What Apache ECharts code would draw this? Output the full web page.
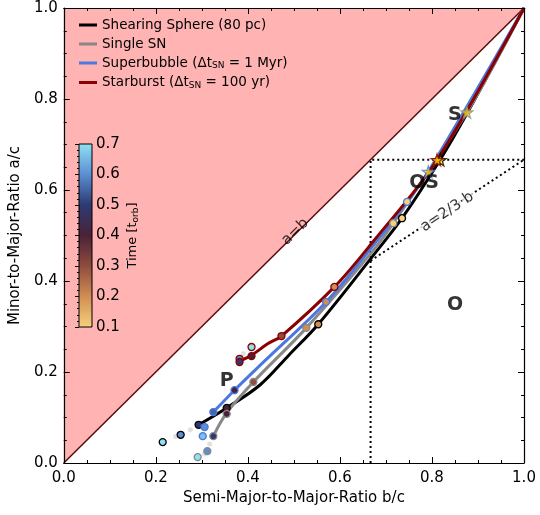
<!DOCTYPE html>
<html><head><meta charset="utf-8">
<script src="https://cdn.jsdelivr.net/npm/echarts@6/dist/echarts.min.js"></script>
<style>html,body{margin:0;padding:0;background:#fff}#c{width:540px;height:515px}</style>
</head><body><div id="c"></div>
<script>
// ---- data ----
const axisTicks = [0, 0.2, 0.4, 0.6, 0.8, 1.0];
const cbarTicks = [0.1, 0.2, 0.3, 0.4, 0.5, 0.6, 0.7];
const timeColors = ['#f6d27a', '#d08e55', '#8f4c3e', '#4a2238', '#2d3a72', '#5b8fd2', '#8fe2f4'];

const seriesNames = ['Shearing Sphere (80 pc)', 'Single SN', 'Superbubble', 'Starburst'];

const shearCurve = [[0.293,0.084],[0.354,0.121],[0.427,0.172],[0.490,0.238],[0.553,0.305],[0.670,0.453],[0.735,0.538],[0.815,0.662],[0.876,0.768],[1,1]];
const singleCurve = [[0.325,0.059],[0.354,0.110],[0.412,0.178],[0.527,0.297],[0.670,0.464],[0.716,0.527],[0.876,0.771],[1,1]];
const bubbleCurve = [[0.325,0.112],[0.371,0.160],[0.427,0.215],[0.570,0.354],[0.670,0.475],[0.746,0.574],[0.792,0.640],[1,1]];
const burstCurve = [[0.377,0.222],[0.408,0.237],[0.443,0.262],[0.473,0.279],[0.588,0.387],[0.670,0.484],[0.811,0.666],[1,1]];

// [b/c, a/c, time]
const shearPts = [[0.215,0.046,0.7],[0.254,0.062,0.6],[0.293,0.084,0.5],[0.354,0.121,0.4],[0.553,0.305,0.2],[0.735,0.538,0.1]];
const singlePts = [[0.291,0.013,0.7],[0.312,0.026,0.6],[0.325,0.059,0.5],[0.354,0.108,0.4],[0.412,0.178,0.3],[0.527,0.297,0.2],[0.716,0.527,0.1]];
const bubblePts = [[0.302,0.059,0.66],[0.306,0.079,0.6],[0.325,0.112,0.55],[0.371,0.160,0.4],[0.570,0.354,0.2],[0.746,0.574,0.1]];
const burstPts = [[0.408,0.255,0.7],[0.382,0.229,0.6],[0.382,0.222,0.5],[0.408,0.235,0.4],[0.473,0.279,0.3],[0.588,0.387,0.2]];

const shearStar = [0.818,0.666];
const singleStar = [0.876,0.771];
const bubbleStar = [0.792,0.640];
const burstStar = [0.811,0.666];

const fadedPts = [[0.275,0.073],[0.243,0.058],[0.317,0.042],[0.390,0.240],[0.306,0.020]];

const equalLine = [[0,0],[1,1]];
const boxLine = [[2/3,0],[2/3,2/3],[1,2/3]];
const oblateLine = [[2/3,4/9],[1,2/3]];

const regionTexts = ['S','OS','P','O'];
const regionPos = [[0.85,0.765],[0.783,0.615],[0.354,0.180],[0.85,0.347]];
const lineTexts = ['a=b','a=2/3·b'];
const linePos = [[0.503,0.508],[0.833,0.552]];

// ---- chart ----
const chart = echarts.init(document.getElementById('c'));
const FONT = 'DejaVu Sans';
const lineColors = ['#000000', '#888888', '#4a78e0', '#8b0000'];
const STAR = 'path://M50,0 L61,35 L98,35 L68,57 L79,91 L50,70 L21,91 L32,57 L2,35 L39,35 Z';

const gradStops = timeColors.map((c, i) => ({offset: 1 - i / (timeColors.length - 1), color: c}));

function mainAxis(extra) {
  return Object.assign({
    type: 'value', min: 0, max: 1, interval: 0.2, gridIndex: 0, z: 10,
    axisLine: {show: true, onZero: false, lineStyle: {color: '#000', width: 1.2}},
    axisTick: {show: true, inside: true, length: 6, lineStyle: {color: '#000', width: 1}},
    minorTick: {show: true, splitNumber: 4, length: 3, lineStyle: {color: '#000', width: 1}},
    splitLine: {show: false},
    axisLabel: {show: true, fontFamily: FONT, fontSize: 15, color: '#000', formatter: v => v.toFixed(1)}
  }, extra);
}

const curves = [shearCurve, singleCurve, bubbleCurve, burstCurve];
const pts = [shearPts, singlePts, bubblePts, burstPts];
const stars = [shearStar, singleStar, bubbleStar, burstStar];

const series = [];
series.push({
  type: 'line', data: equalLine, symbol: 'none', silent: true, z: 1,
  lineStyle: {color: '#5a0a0a', width: 1.5},
  areaStyle: {color: '#ffb3b3', opacity: 1, origin: 'end'}
});
series.push({type: 'line', data: boxLine, symbol: 'none', silent: true, z: 2,
  lineStyle: {color: '#000', width: 2, type: [2, 3]}});
series.push({type: 'line', data: oblateLine, symbol: 'none', silent: true, z: 2,
  lineStyle: {color: '#000', width: 2, type: [2, 3]}});
series.push({type: 'scatter', data: fadedPts, symbolSize: 5, z: 3,
  itemStyle: {color: '#d8d8d8', opacity: 0.8}});
curves.forEach((c, i) => {
  series.push({name: seriesNames[i], type: 'line', data: c, smooth: 0.35, symbol: 'none', z: 4 + i,
    lineStyle: {color: lineColors[i], width: 3}, itemStyle: {color: lineColors[i]}});
});
const scatterIdx = [];
pts.forEach((p, i) => {
  scatterIdx.push(series.length);
  series.push({name: 'pts' + i, type: 'scatter', data: p, symbolSize: 7, z: 10 + i,
    itemStyle: {borderColor: lineColors[i], borderWidth: 1.3, opacity: 1}});
});
stars.forEach((s, i) => {
  series.push({name: 'star' + i, type: 'scatter', data: [s], symbol: STAR, symbolSize: 12, z: 20 + i,
    itemStyle: {color: '#ffdd00', borderColor: lineColors[i], borderWidth: 1.2}});
});
series.push({type: 'scatter', data: regionPos.map((p, i) => [p[0], p[1], regionTexts[i]]), symbolSize: 0, z: 30,
  label: {show: true, position: 'inside', formatter: p => p.value[2], fontFamily: FONT, fontSize: 19, fontWeight: 'bold', color: '#000'}});
series.push({type: 'scatter', data: [linePos[0].concat([lineTexts[0]])], symbolSize: 0, z: 30,
  label: {show: true, position: 'inside', rotate: 44.6, formatter: p => p.value[2], fontFamily: FONT, fontSize: 15, color: '#000'}});
series.push({type: 'scatter', data: [linePos[1].concat([lineTexts[1]])], symbolSize: 0, z: 30,
  label: {show: true, position: 'inside', rotate: 33.4, formatter: p => p.value[2], fontFamily: FONT, fontSize: 15, color: '#000', backgroundColor: '#fff', padding: [0, 1]}});
// colorbar
series.push({type: 'custom', xAxisIndex: 2, yAxisIndex: 2, data: [[0]], z: 40, silent: true,
  renderItem: (params, api) => {
    const p0 = api.coord([0, cbarTicks[cbarTicks.length - 1]]);
    const p1 = api.coord([1, cbarTicks[0]]);
    return {type: 'rect', shape: {x: p0[0], y: p0[1], width: p1[0] - p0[0], height: p1[1] - p0[1]},
      style: {fill: new echarts.graphic.LinearGradient(0, 0, 0, 1, gradStops), stroke: '#000', lineWidth: 1}};
  }});

const legendText = {
  'Shearing Sphere (80 pc)': 'Shearing Sphere (80 pc)',
  'Single SN': 'Single SN',
  'Superbubble': 'Superbubble (Δt{sub|SN} = 1 Myr)',
  'Starburst': 'Starburst (Δt{sub|SN} = 100 yr)'
};

chart.setOption({
  animation: false,
  backgroundColor: '#fff',
  grid: [
    {left: 63, right: 16, top: 8, bottom: 52, show: false},
    {left: 79, top: 144, width: 13, height: 183, show: false}
  ],
  legend: {
    data: seriesNames, orient: 'vertical', left: 74, top: 13, icon: 'rect',
    itemWidth: 18, itemHeight: 3, itemGap: 5,
    formatter: n => legendText[n],
    textStyle: {fontFamily: FONT, fontSize: 13.5, color: '#000',
      rich: {sub: {fontFamily: FONT, fontSize: 9, color: '#000', padding: [6, 0, 0, 0]}}}
  },
  visualMap: {type: 'continuous', show: false, min: 0.1, max: 0.7, dimension: 2,
    seriesIndex: scatterIdx, inRange: {color: timeColors}},
  xAxis: [
    mainAxis({position: 'bottom', name: 'Semi-Major-to-Major-Ratio b/c', nameLocation: 'middle', nameGap: 26,
      nameTextStyle: {fontFamily: FONT, fontSize: 15, color: '#000'}, axisLabel: {show: true, fontFamily: FONT, fontSize: 15, color: '#000', margin: 8, formatter: v => v.toFixed(1)}}),
    mainAxis({position: 'top', axisLabel: {show: false}}),
    {type: 'value', gridIndex: 1, min: 0, max: 1, show: false}
  ],
  yAxis: [
    mainAxis({position: 'left', name: 'Minor-to-Major-Ratio a/c', nameLocation: 'middle', nameGap: 29,
      nameTextStyle: {fontFamily: FONT, fontSize: 15, color: '#000'}, axisLabel: {show: true, fontFamily: FONT, fontSize: 15, color: '#000', margin: 6, formatter: v => v.toFixed(1)}}),
    mainAxis({position: 'right', axisLabel: {show: false}}),
    {type: 'value', gridIndex: 1, min: cbarTicks[0], max: cbarTicks[cbarTicks.length - 1], interval: 0.1, position: 'right', z: 50,
     axisLine: {show: false}, splitLine: {show: false},
     axisTick: {show: true, inside: true, length: 4, lineStyle: {color: '#000'}},
     minorTick: {show: true, splitNumber: 5, length: 2, lineStyle: {color: '#000'}},
     axisLabel: {fontFamily: FONT, fontSize: 15, color: '#000', margin: 4, formatter: v => v.toFixed(1)},
     name: 'Time [t{sub|orb}]', nameLocation: 'middle', nameRotate: 90, nameGap: 34,
     nameTextStyle: {fontFamily: FONT, fontSize: 13, color: '#000',
       rich: {sub: {fontFamily: FONT, fontSize: 9, color: '#000', padding: [5, 0, 0, 0]}}}}
  ],
  series: series
});
</script></body></html>
